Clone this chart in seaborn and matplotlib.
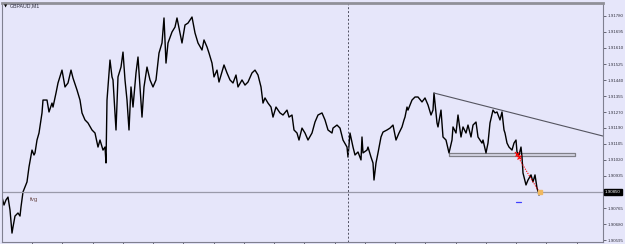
import matplotlib
matplotlib.use("Agg")
import matplotlib.pyplot as plt
import seaborn as sns
import numpy as np
import pandas as pd

symbol_title = "GBPAUD,M1"

bars = [2, 4, 6, 8, 10, 12, 13, 15, 18, 20, 21, 23, 27, 29, 32, 34, 35, 37, 39, 42,
        43, 47, 49, 52, 53, 56, 58, 62, 65, 68, 71, 73, 77, 80, 82, 85, 88, 92, 95, 98,
        100, 103, 105, 106, 107, 110, 112, 113, 116, 118, 121, 123, 125, 127, 129, 131, 133, 136, 138, 142,
        144, 147, 150, 153, 156, 159, 162, 164, 166, 168, 172, 175, 177, 180, 182, 185, 188, 192, 195, 198,
        202, 204, 207, 209, 212, 214, 217, 219, 222, 224, 227, 230, 233, 236, 238, 242, 245, 248, 252, 255,
        258, 261, 263, 265, 268, 271, 273, 276, 280, 283, 287, 289, 292, 294, 297, 299, 302, 305, 308, 312,
        315, 318, 322, 325, 328, 332, 333, 337, 340, 343, 347, 348, 350, 353, 355, 358, 361, 362, 363, 367,
        368, 371, 373, 374, 376, 378, 381, 383, 387, 390, 393, 396, 399, 402, 404, 405, 407, 408, 412, 415,
        418, 422, 425, 428, 431, 433, 434, 437, 438, 441, 443, 446, 449, 452, 453, 456, 458, 461, 463, 466,
        468, 471, 473, 476, 478, 482, 483, 486, 488, 490, 493, 495, 497, 500, 502, 504, 505, 507, 509, 512,
        514, 516, 517, 519, 521, 522, 523, 526, 528, 531, 533, 535, 537, 539, 541]

prices = [1.90823, 1.90781, 1.90808, 1.90823, 1.90755, 1.90633, 1.90665, 1.90723, 1.90739, 1.90723,
          1.90771, 1.90850, 1.90903, 1.90982, 1.91071, 1.91045, 1.91056, 1.91124, 1.91161, 1.91267,
          1.91335, 1.91335, 1.91272, 1.91319, 1.91298, 1.91372, 1.91425, 1.91493, 1.91404, 1.91425,
          1.91493, 1.91451, 1.91388, 1.91335, 1.91267, 1.91230, 1.91214, 1.91177, 1.91161, 1.91087,
          1.91124, 1.91071, 1.91087, 1.91003, 1.91335, 1.91546, 1.91457, 1.91441, 1.91177, 1.91457,
          1.91509, 1.91588, 1.91441, 1.91335, 1.91177, 1.91404, 1.91298, 1.91478, 1.91562, 1.91245,
          1.91404, 1.91509, 1.91441, 1.91404, 1.91441, 1.91583, 1.91636, 1.91768, 1.91530, 1.91636,
          1.91694, 1.91720, 1.91768, 1.91689, 1.91636, 1.91731, 1.91741, 1.91773, 1.91689, 1.91636,
          1.91599, 1.91652, 1.91615, 1.91583, 1.91530, 1.91457, 1.91493, 1.91430, 1.91483, 1.91520,
          1.91478, 1.91441, 1.91425, 1.91467, 1.91404, 1.91441, 1.91414, 1.91430, 1.91478, 1.91493,
          1.91467, 1.91404, 1.91319, 1.91346, 1.91319, 1.91298, 1.91245, 1.91298, 1.91267, 1.91256,
          1.91282, 1.91245, 1.91256, 1.91177, 1.91161, 1.91124, 1.91187, 1.91161, 1.91124, 1.91161,
          1.91219, 1.91256, 1.91267, 1.91230, 1.91177, 1.91161, 1.91187, 1.91203, 1.91187, 1.91124,
          1.91087, 1.91034, 1.91161, 1.91087, 1.91045, 1.91061, 1.91019, 1.91140, 1.91056, 1.91071,
          1.91087, 1.91034, 1.91003, 1.90913, 1.91003, 1.91056, 1.91140, 1.91166, 1.91177, 1.91187,
          1.91203, 1.91124, 1.91161, 1.91193, 1.91230, 1.91245, 1.91298, 1.91282, 1.91335, 1.91351,
          1.91351, 1.91325, 1.91346, 1.91309, 1.91256, 1.91282, 1.91372, 1.91214, 1.91193, 1.91282,
          1.91140, 1.91124, 1.91056, 1.91124, 1.91193, 1.91161, 1.91256, 1.91140, 1.91193, 1.91161,
          1.91203, 1.91140, 1.91203, 1.91219, 1.91140, 1.91108, 1.91124, 1.91056, 1.91108, 1.91214,
          1.91282, 1.91267, 1.91272, 1.91230, 1.91272, 1.91177, 1.91161, 1.91108, 1.91087, 1.91071,
          1.91108, 1.91124, 1.91061, 1.91045, 1.91087, 1.91034, 1.90950, 1.90887, 1.90913, 1.90940,
          1.90903, 1.90940, 1.90871, 1.90834, 1.90850]

price_ticks = [1.91780, 1.91695, 1.91610, 1.91525, 1.91440, 1.91355, 1.91270, 1.91190,
               1.91105, 1.91020, 1.90935, 1.90850, 1.90765, 1.90680, 1.90595]
tick_labels = ["1.91780", "1.91695", "1.91610", "1.91525", "1.91440", "1.91355", "1.91270", "1.91190",
               "1.91105", "1.91020", "1.90935", "", "1.90765", "1.90680", "1.90595"]

current_price = 1.90850
trend_bars = [434, 603]
trend_prices = [1.91372, 1.91145]
zone_bars = [449, 575]
zone_prices = [1.91042, 1.91058]
red_bars = [515, 538]
red_prices = [1.91061, 1.90860]
blue_bars = [516, 521]
blue_prices = [1.90797, 1.90797]
vline_bar = 348
fvg_bar, fvg_price = 30, 1.90808

bg = "#E6E6FA"
sns.set_theme(style="white")
plt.rcParams["font.family"] = ["Liberation Sans", "DejaVu Sans"]

fig = plt.figure(figsize=(6.25, 2.44), dpi=100, facecolor=bg)
ax = fig.add_axes([2/625, 2/244, 601/625, 239/244])
ax.set_facecolor(bg)

df = pd.DataFrame({"bar": bars, "price": prices})
sns.lineplot(data=df, x="bar", y="price", ax=ax, color="black", lw=1.0, sort=False,
             estimator=None)

ax.axhline(current_price, color="#9a9aaa", lw=0.9)
ax.plot(trend_bars, trend_prices, color="#555560", lw=0.8)
ax.fill_between(zone_bars, zone_prices[0], zone_prices[1], facecolor="#d8d8e6",
                edgecolor="#808088", lw=0.9)
ax.plot(red_bars, red_prices, color="red", lw=0.8, ls=(0, (1, 1.2)))
ax.plot([517, 519], [1.91050, 1.91035], ls="none", marker="x", ms=2.5, mew=0.8, color="red")
ax.plot(blue_bars, blue_prices, color="#4040ff", lw=0.9)
ax.axvline(vline_bar, color="#505060", lw=0.7, ls=(0, (2, 2)))
ax.plot([bars[-1] - 1], [prices[-1]], marker="s", ms=2.5, color="#f0b860", mec="#f0b860")
ax.text(fvg_bar, fvg_price, "fvg", fontsize=4.5, color="#705050", va="center", ha="left")

ax.set_xlim(2, 603)
ax.set_ylim(1.90586, 1.91847)
ax.yaxis.tick_right()
ax.set_yticks(price_ticks)
ax.set_yticklabels(tick_labels)
ax.tick_params(axis="y", direction="out", length=2.5, width=0.5, pad=1.0,
               labelsize=3.2, colors="#333340", right=True, left=False)
ax.set_xticks(np.arange(32, 603, 30.25))
ax.set_xticklabels([])
ax.tick_params(axis="x", direction="out", length=2, width=0.5, colors="#333340", bottom=True)
ax.set_xlabel("")
ax.set_ylabel("")
for s in ax.spines.values():
    s.set_color("#808090")
    s.set_linewidth(0.8)
ax.spines["top"].set_linewidth(2.0)
ax.spines["top"].set_color("#909098")

ax.annotate("1.90850", xy=(1.0, current_price), xycoords=("axes fraction", "data"),
            xytext=(1.2, 0), textcoords="offset points", fontsize=3.2, color="white",
            va="center", ha="left",
            bbox=dict(boxstyle="square,pad=0.25", fc="black", ec="black"))

fig.text(4/625, 1 - 6/244, "\u25BC", fontsize=3, color="black", va="center", ha="left",
         family=["DejaVu Sans"])
fig.text(10/625, 1 - 6/244, symbol_title, fontsize=3.8, color="#303040", va="center", ha="left")

fig.savefig("out.png", dpi=100, facecolor=bg)
